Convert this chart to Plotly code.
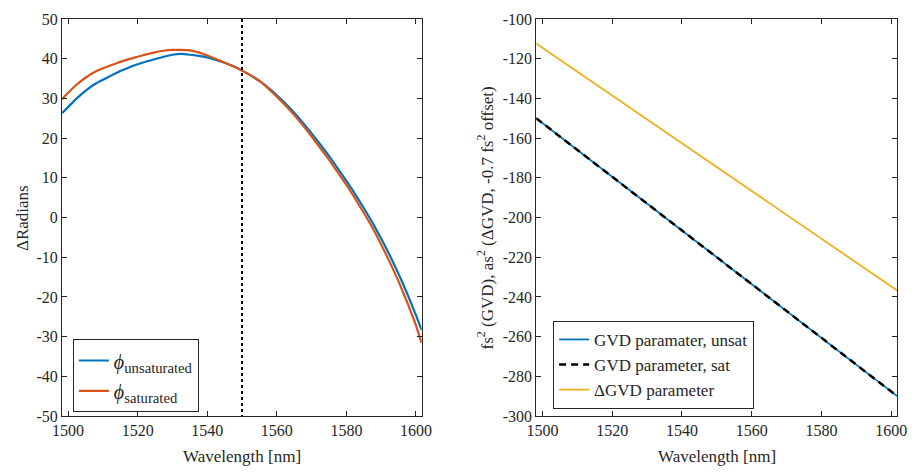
import plotly.graph_objects as go

# ---------------- data ----------------
wl_phase = [1498.3, 1500, 1502.5, 1505, 1507.5, 1510, 1512.5, 1515, 1517.5, 1520, 1522.5,
            1525, 1527.5, 1530, 1532.5, 1535, 1537.5, 1540, 1542.5, 1545, 1547.5, 1550,
            1552.5, 1555, 1557.5, 1560, 1562.5, 1565, 1567.5, 1570, 1572.5, 1575, 1577.5,
            1580, 1582.5, 1585, 1587.5, 1590, 1592.5, 1595, 1597.5, 1600, 1601.6]
phi_unsat = [26.3, 27.8, 30.0, 31.9, 33.5, 34.7, 35.8, 36.9, 37.8, 38.6, 39.3,
             39.9, 40.5, 41.0, 41.2, 41.0, 40.7, 40.3, 39.7, 39.0, 38.1, 37.0,
             35.8, 34.4, 32.7, 30.8, 28.7, 26.4, 23.9, 21.2, 18.4, 15.5, 12.4,
             9.2, 5.9, 2.4, -1.3, -5.3, -9.6, -14.2, -19.2, -24.6, -28.3]
phi_sat = [29.8, 31.4, 33.5, 35.2, 36.6, 37.6, 38.4, 39.2, 39.9, 40.5, 41.1,
           41.6, 42.0, 42.2, 42.2, 42.1, 41.6, 40.8, 39.9, 39.0, 38.1, 37.0,
           35.8, 34.4, 32.5, 30.4, 28.2, 25.8, 23.2, 20.4, 17.5, 14.6, 11.4,
           8.2, 4.8, 1.2, -2.6, -6.8, -11.3, -16.1, -21.4, -27.2, -31.6]
ref_wavelength = 1550

wl_gvd = [1498.2, 1510, 1520, 1530, 1540, 1550, 1560, 1570, 1580, 1590, 1600, 1601.7]
gvd_unsat = [-150.0, -166.0, -179.5, -193.0, -206.6, -220.1, -233.6, -247.2,
             -260.7, -274.2, -287.7, -290.0]
gvd_sat = [-150.0, -166.0, -179.5, -193.0, -206.6, -220.1, -233.6, -247.2,
           -260.7, -274.2, -287.7, -290.0]
dgvd = [-112.3, -126.5, -138.5, -150.6, -162.6, -174.6, -186.7, -198.7,
        -210.8, -222.8, -234.9, -236.8]

x_ticks = [1500, 1520, 1540, 1560, 1580, 1600]
y1_ticks = [50, 40, 30, 20, 10, 0, -10, -20, -30, -40, -50]
y2_ticks = [-100, -120, -140, -160, -180, -200, -220, -240, -260, -280, -300]

# ---------------- style ----------------
FONT = "Liberation Serif"
AX = "#262626"
BLUE = "#0072BD"
ORANGE = "#D95319"
YELLOW = "#EDB120"

fig = go.Figure()

fig.add_trace(go.Scatter(x=wl_phase, y=phi_unsat, mode="lines",
                         line=dict(color=BLUE, width=2.2, shape="spline", smoothing=0.5),
                         name='<span style="font-size:20px"><i>ϕ</i></span><sub>unsaturated</sub>',
                         xaxis="x", yaxis="y", legend="legend"))
fig.add_trace(go.Scatter(x=wl_phase, y=phi_sat, mode="lines",
                         line=dict(color=ORANGE, width=2.2, shape="spline", smoothing=0.5),
                         name='<span style="font-size:20px"><i>ϕ</i></span><sub>saturated</sub>',
                         xaxis="x", yaxis="y", legend="legend"))
fig.add_trace(go.Scatter(x=[ref_wavelength, ref_wavelength], y=[y1_ticks[0], y1_ticks[-1]],
                         mode="lines", line=dict(color="black", width=2, dash="dot"),
                         showlegend=False, hoverinfo="skip", xaxis="x", yaxis="y"))

fig.add_trace(go.Scatter(x=wl_gvd, y=gvd_unsat, mode="lines",
                         line=dict(color=BLUE, width=1.8),
                         name="GVD paramater, unsat",
                         xaxis="x2", yaxis="y2", legend="legend2"))
fig.add_trace(go.Scatter(x=wl_gvd, y=gvd_sat, mode="lines",
                         line=dict(color="black", width=2.5, dash="7px,5px"),
                         name="GVD parameter, sat",
                         xaxis="x2", yaxis="y2", legend="legend2"))
fig.add_trace(go.Scatter(x=wl_gvd, y=dgvd, mode="lines",
                         line=dict(color=YELLOW, width=1.8),
                         name="ΔGVD parameter",
                         xaxis="x2", yaxis="y2", legend="legend2"))

W, H = 918, 472
ML, MR, MT, MB = 62, 11, 12, 56
PW = W - ML - MR
PH = H - MT - MB


def px_x(p):
    return (p - ML) / PW


def px_y(p):
    return 1 - (p - MT) / PH


common_axis = dict(showline=True, linecolor=AX, linewidth=1, mirror="ticks",
                   ticks="inside", ticklen=5, tickcolor=AX, tickwidth=1,
                   showgrid=False, zeroline=False,
                   tickfont=dict(family=FONT, size=16, color=AX))

xr = [1498.25, 1601.65]

fig.update_layout(
    width=W, height=H,
    margin=dict(l=ML, r=MR, t=MT, b=MB),
    paper_bgcolor="white", plot_bgcolor="white",
    font=dict(family=FONT, size=16, color=AX),
    xaxis=dict(domain=[0, px_x(426)], range=xr, tickvals=x_ticks,
               ticktext=[str(v) for v in x_ticks], anchor="y", **common_axis),
    yaxis=dict(domain=[0, 1], range=[-50, 50], tickvals=y1_ticks,
               ticktext=[str(v) for v in y1_ticks], anchor="x", **common_axis),
    xaxis2=dict(domain=[px_x(542), 1], range=xr, tickvals=x_ticks,
                ticktext=[str(v) for v in x_ticks], anchor="y2", **common_axis),
    yaxis2=dict(domain=[0, 1], range=[-300, -100], tickvals=y2_ticks,
                ticktext=[str(v) for v in y2_ticks], anchor="x2", **common_axis),
    legend=dict(x=px_x(73), y=px_y(338), xanchor="left", yanchor="top",
                bgcolor="white", bordercolor=AX, borderwidth=1,
                font=dict(family=FONT, size=21, color=AX), tracegroupgap=0),
    legend2=dict(x=px_x(559), y=px_y(364), xanchor="left", yanchor="middle",
                 bgcolor="white", bordercolor=AX, borderwidth=1,
                 font=dict(family=FONT, size=17, color=AX), tracegroupgap=0),
    showlegend=True,
    annotations=[
        dict(text="ΔRadians", xref="paper", yref="paper",
             x=px_x(22), y=px_y(214), showarrow=False, textangle=-90,
             font=dict(family=FONT, size=17, color=AX), xanchor="center", yanchor="middle"),
        dict(text="fs<sup>2</sup> (GVD), as<sup>2</sup> (ΔGVD, -0.7 fs<sup>2</sup> offset)",
             xref="paper", yref="paper",
             x=px_x(490), y=px_y(214), showarrow=False, textangle=-90,
             font=dict(family=FONT, size=17, color=AX), xanchor="center", yanchor="middle"),
        dict(text="Wavelength [nm]", xref="paper", yref="paper",
             x=px_x(244), y=px_y(457), showarrow=False,
             font=dict(family=FONT, size=17, color=AX), xanchor="center", yanchor="middle"),
        dict(text="Wavelength [nm]", xref="paper", yref="paper",
             x=px_x(725), y=px_y(457), showarrow=False,
             font=dict(family=FONT, size=17, color=AX), xanchor="center", yanchor="middle"),
    ],
)

fig.write_html("out.html")
